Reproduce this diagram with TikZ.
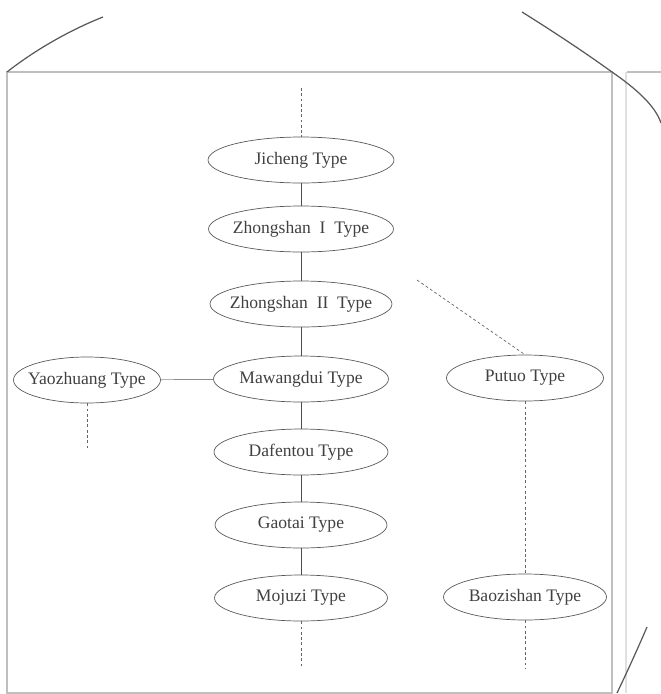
\documentclass[tikz,border=0pt]{standalone}
\usepackage{fontspec}
\setmainfont{Liberation Serif}
\usetikzlibrary{shapes.geometric}
\tikzset{
  kind/.style={ellipse, draw=black!65, text=black!75, inner xsep=-14pt, inner ysep=0pt,
    minimum height=0.92cm, font=\fontsize{10}{12}\selectfont},
  link/.style={draw=black!70},
  trail/.style={draw=black!60, dash pattern=on 1.6pt off 1.4pt},
  sheet/.style={draw=black!25, line width=0.6pt},
  curl/.style={draw=black!65, line width=0.7pt}
}
\begin{document}
\begin{tikzpicture}[x=0.02cm, y=-0.02cm]
        \useasboundingbox (0,0) rectangle (661,694);
        % the scanned page
        \draw[sheet] (7,72) rectangle (612,693);
        \draw[sheet, draw=black!12] (626,72) -- (626,693);
        \draw[sheet] (627,72) -- (661,72);
        \draw[curl] (7,72) .. controls (35,50) and (70,30) .. (103,17);
        \draw[curl] (522,12) .. controls (570,42) and (598,62) .. (612,72) .. controls (635,88) and (655,105) .. (661,123);
        \draw[curl] (617,693) .. controls (628,670) and (638,648) .. (647,627);
        % types
        \draw (301,160) node[kind, minimum width=3.72cm](jicheng) {Jicheng Type};
        \draw (301,229) node[kind, minimum width=3.7cm](zhongshanI) {Zhongshan~~I~~Type};
        \draw (301,304) node[kind, minimum width=3.64cm](zhongshanII) {Zhongshan~~II~~Type};
        \draw (301,379) node[kind, minimum width=3.5cm](mawangdui) {Mawangdui Type};
        \draw (301,452) node[kind, minimum width=3.48cm](dafentou) {Dafentou Type};
        \draw (301,525) node[kind, minimum width=3.44cm](gaotai) {Gaotai Type};
        \draw (301,598) node[kind, minimum width=3.46cm](mojuzi) {Mojuzi Type};
        \draw (87,380) node[kind, minimum width=2.94cm](yaozhuang) {Yaozhuang Type};
        \draw (525,378) node[kind, minimum width=3.14cm](putuo) {Putuo Type};
        \draw (525,597) node[kind, minimum width=3.26cm](baozishan) {Baozishan Type};
        % loose ends
        \coordinate (topend) at (301,88);
        \coordinate (mojuziend) at (301,668);
        \coordinate (baozishanend) at (525,668);
        \coordinate (yaozhuangend) at (87,450);
        \coordinate (putuoend) at (417,280);
        % links
        \draw[link] (jicheng) -- (zhongshanI);
        \draw[link] (zhongshanI) -- (zhongshanII);
        \draw[link] (zhongshanII) -- (mawangdui);
        \draw[link] (mawangdui) -- (dafentou);
        \draw[link] (dafentou) -- (gaotai);
        \draw[link] (gaotai) -- (mojuzi);
        \draw[link, draw=black!45] (yaozhuang) -- (mawangdui);
        \draw[trail] (topend) -- (jicheng);
        \draw[trail] (mojuzi) -- (mojuziend);
        \draw[trail] (yaozhuang) -- (yaozhuangend);
        \draw[trail] (putuoend) -- (putuo.north);
        \draw[trail] (putuo) -- (baozishan);
        \draw[trail] (baozishan) -- (baozishanend);
\end{tikzpicture}
\end{document}
